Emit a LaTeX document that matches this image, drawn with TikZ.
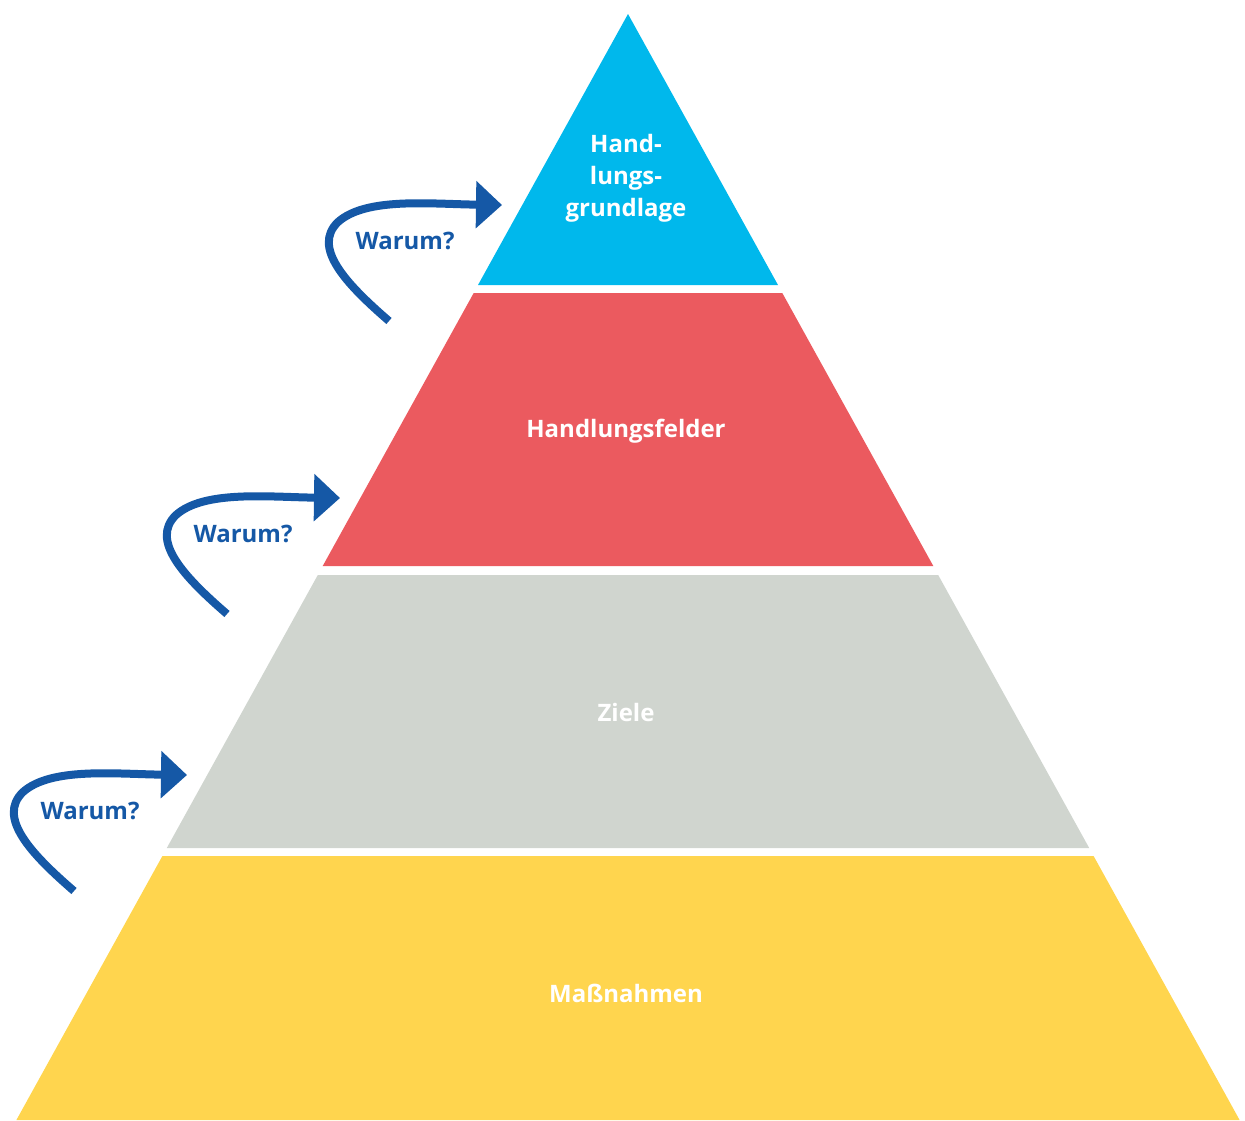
\documentclass[tikz,border=0pt]{standalone}
\usepackage{fontspec}
\setmainfont{Open Sans}
\usetikzlibrary{arrows.meta}
\definecolor{tierblue}{HTML}{00B8EC}
\definecolor{tierred}{HTML}{EB5A5F}
\definecolor{tiergray}{HTML}{D0D5CF}
\definecolor{tieryellow}{HTML}{FFD54E}
\definecolor{whyblue}{HTML}{1558A6}
\tikzset{
  tier/.style={draw=none},
  tierlabel/.style={text=white, font=\bfseries\fontsize{24}{32}\selectfont, align=center},
  whyarrow/.style={draw=whyblue, line width=8pt,
    -{Triangle[length=26pt,width=46pt]}},
  whylabel/.style={text=whyblue, font=\bfseries\fontsize{24}{28}\selectfont},
}
\begin{document}
\begin{tikzpicture}[x=1pt,y=-1pt]
\useasboundingbox (0,0) rectangle (1245,1120);

% pyramid bands
\fill[tier, tierblue]   (628,14) -- (778,285) -- (478,285) -- cycle;
\fill[tier, tierred]    (473.7,293) -- (782.3,293) -- (933.3,566) -- (322.7,566) -- cycle;
\fill[tier, tiergray]   (317.8,575) -- (938.2,575) -- (1089.2,848) -- (166.8,848) -- cycle;
\fill[tier, tieryellow] (162.4,856) -- (1093.6,856) -- (1239.6,1120) -- (16.4,1120) -- cycle;

% band labels
\node[tierlabel] (grundlage) at (626,178) {Hand-\\lungs-\\grundlage};
\node[tierlabel] (felder) at (626,431) {Handlungsfelder};
\node[tierlabel] (ziele) at (626,712) {Ziele};
\node[tierlabel] (massnahmen) at (626,993) {Maßnahmen};

% "Warum?" arrows, one per band boundary
\foreach \i/\dx/\dy in {1/0/0, 2/-162/293, 3/-315/570}{
  \begin{scope}[shift={(\dx,\dy)}]
    \coordinate (tail\i) at (389,321);
    \coordinate (tip\i) at (502,205);
    \draw[whyarrow] (tail\i) .. controls (345,283) and (312,247) .. (338,222)
      .. controls (366,197) and (430,204) .. (tip\i);
    \node[whylabel] (why\i) at (405,241) {Warum?};
  \end{scope}
}
\end{tikzpicture}
\end{document}
